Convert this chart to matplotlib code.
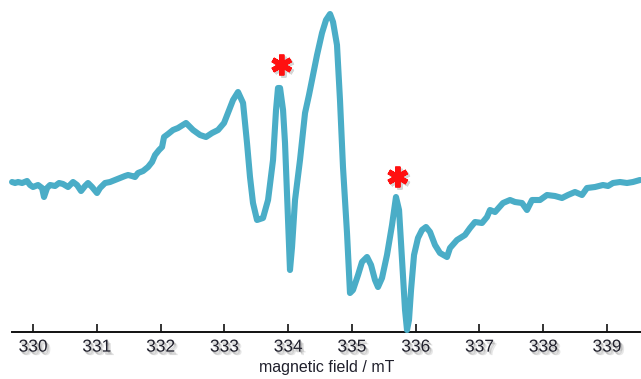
import matplotlib
matplotlib.use("Agg")
import matplotlib.pyplot as plt
import matplotlib.patheffects as pe

# EPR spectrum: magnetic field (mT) vs. first-derivative signal (arb. units)
field_mT = [
    329.671, 329.718, 329.765, 329.828, 329.906, 329.953, 330.000, 330.078,
    330.141, 330.172, 330.220, 330.267, 330.345, 330.408, 330.470, 330.549,
    330.627, 330.690, 330.753, 330.815, 330.862, 330.925, 331.003, 331.050,
    331.129, 331.207, 331.286, 331.364, 331.442, 331.490, 331.552, 331.599,
    331.646, 331.725, 331.803, 331.866, 331.913, 331.976, 332.023, 332.054,
    332.117, 332.195, 332.273, 332.399, 332.509, 332.618, 332.712, 332.807,
    332.901, 332.995, 333.057, 333.136, 333.214, 333.293, 333.355, 333.402,
    333.449, 333.512, 333.606, 333.685, 333.763, 333.810, 333.841, 333.873,
    333.920, 333.951, 333.982, 334.029, 334.061, 334.108, 334.186, 334.265,
    334.327, 334.390, 334.453, 334.531, 334.594, 334.657, 334.704, 334.766,
    334.813, 334.860, 334.923, 334.970, 335.017, 335.096, 335.158, 335.237,
    335.300, 335.362, 335.409, 335.472, 335.550, 335.629, 335.691, 335.739,
    335.786, 335.833, 335.864, 335.895, 335.927, 335.974, 336.036, 336.099,
    336.162, 336.225, 336.303, 336.381, 336.491, 336.538, 336.648, 336.773,
    336.852, 336.930, 337.040, 337.118, 337.165, 337.244, 337.369, 337.479,
    337.557, 337.667, 337.745, 337.824, 337.949, 338.059, 338.184, 338.294,
    338.388, 338.498, 338.608, 338.686, 338.812, 338.937, 339.016, 339.094,
    339.204, 339.313, 339.407, 339.517,
]
signal = [
    3, 2, 3, 2, 4, 0, -2, 0,
    -3, -12, -3, 0, -1, 2, 1, -2,
    3, 0, -6, -1, 2, -2, -8, -3,
    2, 3, 5, 7, 9, 10, 9, 8,
    12, 14, 18, 23, 30, 35, 38, 48,
    51, 55, 57, 62, 55, 50, 48, 52,
    55, 62, 72, 85, 93, 82, 42, 8,
    -18, -35, -33, -15, 25, 75, 97, 97,
    75, 42, -8, -85, -62, -15, 25, 72,
    90, 110, 130, 152, 165, 171, 163, 140,
    85, 18, -48, -108, -105, -90, -77, -72,
    -80, -95, -102, -93, -70, -40, -12, -25,
    -75, -125, -145, -135, -105, -70, -53, -45,
    -42, -47, -60, -68, -72, -63, -55, -50,
    -43, -37, -38, -32, -25, -27, -18, -15,
    -17, -18, -25, -15, -15, -10, -11, -13,
    -10, -7, -10, -3, -2, 0, -1, 2,
    3, 2, 3, 5,
]
starred_field = [333.90, 335.72]
starred_signal = [120, 8]

tick_values = list(range(330, 340))
tick_labels = [str(v) for v in tick_values]

line_color = "#4aadc7"
text_color = "#20202c"

fig = plt.figure(figsize=(6.41, 3.79), dpi=100)
ax = fig.add_axes([12 / 641, 47 / 379, 629 / 641, 332 / 379])

ax.plot(field_mT, signal, color=line_color, lw=4.4,
        solid_joinstyle="round", solid_capstyle="round",
        clip_on=False, zorder=3)

# soft drop shadow for the tick labels and star markers
shadow_fx = [
    pe.SimplePatchShadow(offset=(2.5, -2.5), shadow_rgbFace="#777777", alpha=0.18),
    pe.SimplePatchShadow(offset=(1.5, -2.0), shadow_rgbFace="#777777", alpha=0.3),
    pe.SimplePatchShadow(offset=(1.0, -1.0), shadow_rgbFace="#777777", alpha=0.25),
    pe.Normal(),
]
stroke_shadow = [
    pe.SimpleLineShadow(offset=(1.5, -1.5), shadow_color="#888888", alpha=0.35),
    pe.Normal(),
]

ax.plot(starred_field, starred_signal, linestyle="none", marker=(6, 2, 0),
        markersize=15, markeredgewidth=3.8, color="#ff1010",
        clip_on=False, zorder=4, path_effects=stroke_shadow)

ax.set_xlim(329.67, 339.533)
ax.set_ylim(-147, 185)

for side in ("top", "right", "left"):
    ax.spines[side].set_visible(False)
ax.spines["bottom"].set_linewidth(1.4)
ax.spines["bottom"].set_color("#111111")
ax.set_yticks([])

ax.set_xticks(tick_values)
ax.set_xticklabels(tick_labels)
ax.tick_params(axis="x", direction="in", length=6, width=1.2, color="#111111",
               pad=5.5, labelsize=12.5, labelcolor=text_color)
for lbl in ax.get_xticklabels():
    lbl.set_family("Liberation Sans")
    lbl.set_path_effects(shadow_fx)

ax.set_xlabel("magnetic field / mT", family="Liberation Sans", fontsize=11.5,
              color=text_color, labelpad=4)

fig.savefig("out.png", dpi=100)
